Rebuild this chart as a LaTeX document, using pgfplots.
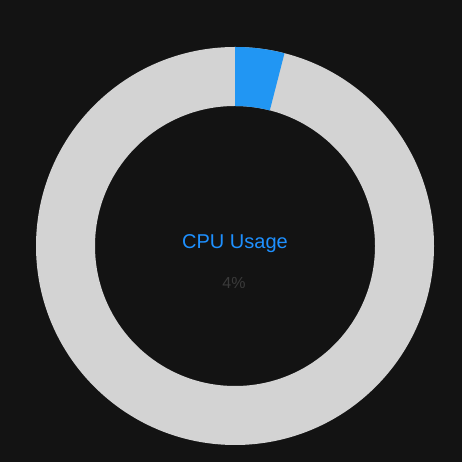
\documentclass[border=0pt]{standalone}
\usepackage{pgfplots}
\pgfplotsset{compat=1.18}
\usepackage{pgfplotstable}
\usepackage{fontspec}
\setmainfont{Liberation Sans}
\usetikzlibrary{calc}
\definecolor{bg}{HTML}{131313}
\definecolor{ring}{HTML}{D3D3D3}
\definecolor{cpublue}{HTML}{2196F3}
\definecolor{txtblue}{HTML}{1E90FF}
\definecolor{pcttxt}{HTML}{3A3A3A}
\pgfplotstableread{
label value
CPU 4
Free 96
}\cpudata
\pgfplotstablegetelem{0}{value}\of\cpudata
\let\cpu\pgfplotsretval
\begin{document}
\begin{tikzpicture}
\begin{axis}[
  x=1pt, y=1pt, scale only axis,
  xmin=0, xmax=462, ymin=0, ymax=462,
  hide axis, clip=false,
]
\addplot[fill=bg, draw=none] coordinates {(0,0) (462,0) (462,462) (0,462)} -- cycle;
\pgfmathsetmacro\ang{90-360*\cpu/100}
\fill[ring, even odd rule] (axis cs:235,216) circle[radius=199pt] (axis cs:235,216) circle[radius=140pt];
\fill[cpublue] ($(axis cs:235,216)+(90:199pt)$) arc[start angle=90, end angle=\ang, radius=199pt]
  -- ($(axis cs:235,216)+(\ang:140pt)$) arc[start angle=\ang, end angle=90, radius=140pt] -- cycle;
\node[text=txtblue, font=\fontsize{20}{24}\selectfont] at (axis cs:235,218) {CPU Usage};
\node[text=pcttxt, font=\fontsize{16}{19}\selectfont] at (axis cs:234,179) {\cpu\%};
\end{axis}
\end{tikzpicture}
\end{document}
